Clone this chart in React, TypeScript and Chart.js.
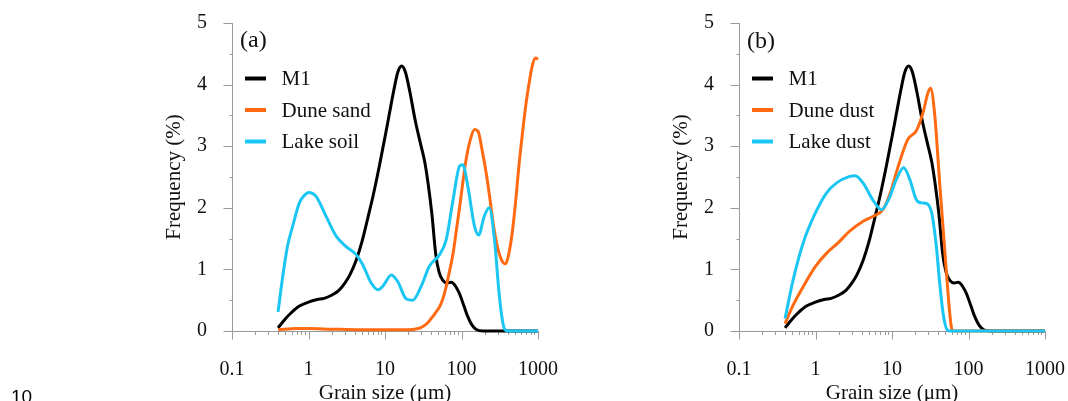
import React, { useEffect, useRef } from 'react';
import { Chart, registerables } from 'chart.js';

Chart.register(...registerables);

// ---------- tick values / labels ----------
const xTickValues = [0.1, 1, 10, 100, 1000];
const xTickLabels = ['0.1', '1', '10', '100', '1000'];
const xMinorMultipliers = [2, 3, 4, 5, 6, 7, 8, 9];
const yTickValues = [0, 1, 2, 3, 4, 5];
const yTickLabels = ['0', '1', '2', '3', '4', '5'];
const yMinorValues = [0.5, 1.5, 2.5, 3.5, 4.5];

// ---------- series: M1 (both panels) ----------
const m1Size = [0.4, 0.5, 0.6, 0.75, 1.0, 1.3, 1.6, 2.0, 2.5, 3.0, 3.5, 4.2, 5.0, 6.0, 7.0, 8.5, 10, 11.5, 13, 14.7, 16.5, 18.5, 21, 25, 29, 33, 37, 41, 46, 51, 57, 65, 73, 80, 88, 96, 108, 122, 138, 158, 190, 370, 1000];
const m1Freq = [0.05, 0.2, 0.3, 0.4, 0.47, 0.51, 0.53, 0.58, 0.66, 0.78, 0.92, 1.15, 1.45, 1.85, 2.2, 2.7, 3.15, 3.55, 3.9, 4.2, 4.3, 4.2, 3.9, 3.4, 3.05, 2.75, 2.35, 1.9, 1.25, 0.95, 0.82, 0.78, 0.79, 0.76, 0.68, 0.58, 0.4, 0.22, 0.09, 0.02, 0, 0, 0];

// ---------- panel (a): Dune sand ----------
const duneSandSize = [0.4, 0.7, 1, 2, 5, 10, 20, 27, 31, 36, 40, 46, 52, 58, 63, 70, 77.6, 86, 95, 105, 115, 130, 148, 165, 185, 210, 235, 255, 285, 310, 345, 378, 415, 460, 510, 563, 625, 690, 760, 840, 930, 1000];
const duneSandFreq = [0.02, 0.04, 0.04, 0.03, 0.02, 0.02, 0.02, 0.04, 0.07, 0.13, 0.2, 0.3, 0.4, 0.55, 0.72, 0.98, 1.26, 1.65, 2.03, 2.45, 2.79, 3.1, 3.27, 3.24, 2.95, 2.57, 2.15, 1.81, 1.45, 1.26, 1.12, 1.09, 1.25, 1.59, 2.1, 2.68, 3.2, 3.65, 4.0, 4.3, 4.43, 4.41];

// ---------- panel (a): Lake soil ----------
const lakeSoilSize = [0.4, 0.46, 0.53, 0.62, 0.76, 0.88, 1.0, 1.25, 1.7, 2.3, 3.1, 4.2, 5.1, 6.6, 8.1, 9.4, 12.1, 14.7, 19, 23, 29.6, 38, 51.7, 63, 77.6, 94.6, 104, 121, 148, 168, 198, 230, 270, 310, 345, 370, 405, 1000];
const lakeSoilFreq = [0.31, 0.88, 1.37, 1.7, 2.08, 2.2, 2.25, 2.19, 1.86, 1.54, 1.37, 1.24, 1.08, 0.78, 0.67, 0.73, 0.91, 0.8, 0.52, 0.5, 0.72, 1.05, 1.24, 1.48, 2.13, 2.68, 2.7, 2.35, 1.7, 1.56, 1.86, 2.0, 1.48, 0.61, 0.15, 0.02, 0, 0];

// ---------- panel (b): Dune dust ----------
const duneDustSize = [0.4, 0.51, 0.69, 1.0, 1.39, 1.97, 2.8, 4.2, 5.6, 7.6, 9.5, 12.1, 16.1, 20.8, 25.5, 29.6, 32, 36.3, 42, 48.9, 54, 59.6, 64, 1000];
const duneDustFreq = [0.12, 0.42, 0.72, 1.05, 1.26, 1.43, 1.62, 1.78, 1.86, 1.97, 2.24, 2.68, 3.11, 3.25, 3.55, 3.87, 3.94, 3.49, 2.4, 1.32, 0.61, 0.07, 0, 0];

// ---------- panel (b): Lake dust ----------
const lakeDustSize = [0.4, 0.51, 0.69, 1.0, 1.39, 1.87, 2.8, 3.3, 4.2, 5.6, 7.3, 9.0, 11.4, 14.2, 17.1, 20.8, 24.3, 28.3, 33, 38, 42, 46.5, 51.5, 56.6, 1000];
const lakeDustFreq = [0.2, 0.83, 1.43, 1.92, 2.24, 2.4, 2.51, 2.52, 2.4, 2.13, 1.97, 2.13, 2.46, 2.65, 2.46, 2.13, 2.08, 2.07, 1.92, 1.37, 0.78, 0.29, 0.04, 0, 0];

// ---------- styling ----------
const SERIF = "'Liberation Serif', 'Times New Roman', serif";
const TEXT_COLOR = '#111111';
const AXIS_COLOR = '#9a9a9a';
const BLACK = '#000000';
const ORANGE = '#ff6a13';
const CYAN = '#1cc6f2';

const toPoints = (xs: number[], ys: number[]) => xs.map((x, i) => ({ x, y: ys[i] }));

const decorPlugin = {
  id: 'decor',
  beforeDatasetsDraw(chart: any) {
    const { ctx, chartArea } = chart;
    const xs = chart.scales.x;
    const ys = chart.scales.y;
    const ax = Math.floor(chartArea.left) + 0.5;
    const ay = Math.round(ys.getPixelForValue(0)) + 0.5;
    ctx.save();
    ctx.strokeStyle = AXIS_COLOR;
    ctx.lineWidth = 1;
    ctx.beginPath();
    ctx.moveTo(ax, Math.round(ys.getPixelForValue(5)));
    ctx.lineTo(ax, ay);
    ctx.moveTo(ax, ay);
    ctx.lineTo(Math.round(xs.getPixelForValue(1000)) + 1, ay);
    yTickValues.forEach((v) => {
      const y = Math.round(ys.getPixelForValue(v)) + 0.5;
      ctx.moveTo(ax - 9, y);
      ctx.lineTo(ax, y);
    });
    yMinorValues.forEach((v) => {
      const y = Math.round(ys.getPixelForValue(v)) + 0.5;
      ctx.moveTo(ax - 3, y);
      ctx.lineTo(ax, y);
    });
    xTickValues.forEach((v, i) => {
      const x = Math.round(xs.getPixelForValue(v)) + 0.5;
      ctx.moveTo(x, ay);
      ctx.lineTo(x, ay + 8);
      if (i < xTickValues.length - 1) {
        xMinorMultipliers.forEach((m) => {
          const mx = Math.round(xs.getPixelForValue(v * m)) + 0.5;
          ctx.moveTo(mx, ay);
          ctx.lineTo(mx, ay + 3.5);
        });
      }
    });
    ctx.stroke();
    ctx.restore();
  },
  afterDraw(chart: any, _args: any, opts: any) {
    const { ctx, chartArea } = chart;
    const left = chartArea.left;
    ctx.save();
    ctx.fillStyle = TEXT_COLOR;
    ctx.textBaseline = 'middle';
    ctx.textAlign = 'left';
    ctx.font = `24px ${SERIF}`;
    ctx.fillText(opts.label, left + 8, opts.labelY);
    ctx.font = `21px ${SERIF}`;
    chart.data.datasets.forEach((ds: any, i: number) => {
      const y = opts.legendY[i];
      ctx.strokeStyle = ds.borderColor;
      ctx.lineWidth = 4;
      ctx.beginPath();
      ctx.moveTo(left + 13, y);
      ctx.lineTo(left + 34, y);
      ctx.stroke();
      ctx.fillText(ds.label, left + 49.5, y + 1);
    });
    ctx.restore();
  },
};

type Series = { label: string; xs: number[]; ys: number[]; color: string };

function Panel(props: {
  left: number;
  width: number;
  axisX: number;
  rightPad: number;
  yTitleCenter: number;
  label: string;
  labelY: number;
  series: Series[];
}) {
  const ref = useRef<HTMLCanvasElement | null>(null);
  useEffect(() => {
    if (!ref.current) return;
    const tickFont = { family: SERIF, size: 20 };
    const titleFont = { family: SERIF, size: 21, lineHeight: 1.2 };
    const chart = new Chart(ref.current, {
      type: 'line',
      data: {
        datasets: props.series.map((s, i) => ({
          label: s.label,
          data: toPoints(s.xs, s.ys),
          borderColor: s.color,
          backgroundColor: s.color,
          borderWidth: 3,
          pointRadius: 0,
          fill: false,
          cubicInterpolationMode: 'monotone',
          clip: false,
          order: props.series.length - 1 - i,
        })),
      },
      options: {
        animation: false,
        responsive: false,
        devicePixelRatio: 1,
        layout: { padding: { top: 23, right: props.rightPad, bottom: 0, left: 0 } },
        plugins: {
          legend: { display: false },
          tooltip: { enabled: false },
          decor: { label: props.label, labelY: props.labelY, legendY: [78.5, 110, 141.5] },
        } as any,
        scales: {
          x: {
            type: 'logarithmic',
            min: 0.1,
            max: 1000,
            afterBuildTicks: (s: any) => {
              s.ticks = xTickValues.map((v) => ({ value: v }));
            },
            afterFit: (s: any) => {
              s.height = 70;
              s.paddingLeft = 0;
              s.paddingRight = 0;
            },
            ticks: {
              autoSkip: false,
              maxRotation: 0,
              padding: 27,
              color: TEXT_COLOR,
              font: tickFont,
              callback: (v: any) => {
                const i = xTickValues.indexOf(Number(v));
                return i >= 0 ? xTickLabels[i] : '';
              },
            },
            grid: { display: false, drawTicks: false },
            border: { display: false },
            title: {
              display: true,
              text: 'Grain size (μm)',
              color: TEXT_COLOR,
              font: titleFont,
              padding: { top: 0, bottom: -5 },
            },
          },
          y: {
            type: 'linear',
            min: 0,
            max: 5,
            afterBuildTicks: (s: any) => {
              s.ticks = yTickValues.map((v) => ({ value: v }));
            },
            afterFit: (s: any) => {
              s.width = props.axisX;
              s.paddingTop = 0;
              s.paddingBottom = 0;
            },
            ticks: {
              padding: 25,
              color: TEXT_COLOR,
              font: tickFont,
              callback: (v: any) => {
                const i = yTickValues.indexOf(Number(v));
                return i >= 0 ? yTickLabels[i] : '';
              },
            },
            grid: { display: false, drawTicks: false },
            border: { display: false },
            title: {
              display: true,
              text: 'Frequency (%)',
              color: TEXT_COLOR,
              font: titleFont,
              padding: { top: props.yTitleCenter - 12.6, bottom: 0 },
            },
          },
        },
      } as any,
      plugins: [decorPlugin as any],
    });
    return () => chart.destroy();
  }, []);
  return (
    <canvas
      ref={ref}
      width={props.width}
      height={401}
      style={{ position: 'absolute', left: props.left, top: 0, width: props.width, height: 401 }}
    />
  );
}

export default function App() {
  const seriesA: Series[] = [
    { label: 'M1', xs: m1Size, ys: m1Freq, color: BLACK },
    { label: 'Dune sand', xs: duneSandSize, ys: duneSandFreq, color: ORANGE },
    { label: 'Lake soil', xs: lakeSoilSize, ys: lakeSoilFreq, color: CYAN },
  ];
  const seriesB: Series[] = [
    { label: 'M1', xs: m1Size, ys: m1Freq, color: BLACK },
    { label: 'Dune dust', xs: duneDustSize, ys: duneDustFreq, color: ORANGE },
    { label: 'Lake dust', xs: lakeDustSize, ys: lakeDustFreq, color: CYAN },
  ];
  return (
    <div style={{ position: 'absolute', left: 0, top: 0, width: 1068, height: 401, background: '#ffffff', overflow: 'hidden' }}>
      <Panel left={0} width={560} axisX={232} rightPad={22} yTitleCenter={174} label="(a)" labelY={41} series={seriesA} />
      <Panel left={560} width={508} axisX={179} rightPad={23} yTitleCenter={121} label="(b)" labelY={42} series={seriesB} />
      <span
        style={{
          position: 'absolute',
          left: 11,
          top: 386.5,
          fontFamily: "'Liberation Sans', Arial, sans-serif",
          fontSize: 19,
          lineHeight: '19px',
          color: '#000',
        }}
      >
        10
      </span>
    </div>
  );
}
